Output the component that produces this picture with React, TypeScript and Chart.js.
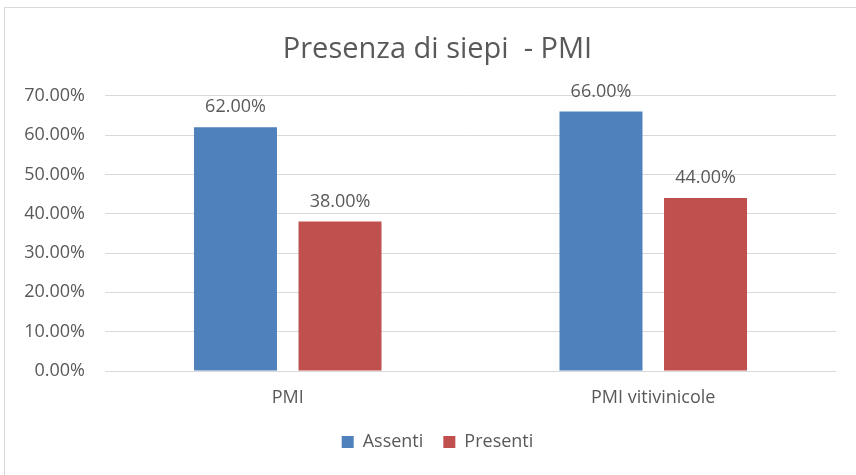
import React, { useEffect, useRef } from "react";
import { Chart, registerables } from "chart.js";

Chart.register(...registerables);

const categories = ["PMI", "PMI vitivinicole"];
const assenti = [62, 66];
const presenti = [38, 44];
const yTicks = [0, 10, 20, 30, 40, 50, 60, 70];
const titleText = "Presenza di siepi  - PMI";

const FONT = "'Open Sans', 'Liberation Sans', sans-serif";
const TEXT = "#595959";
const GRID = "#d9d9d9";

const borderPlugin = {
  id: "outerBorder",
  beforeDraw(chart: any) {
    const ctx = chart.ctx;
    ctx.save();
    ctx.fillStyle = "#ffffff";
    ctx.fillRect(0, 0, chart.width, chart.height);
    ctx.strokeStyle = GRID;
    ctx.lineWidth = 1;
    ctx.strokeRect(4.5, 7.5, 1000, 1000);
    ctx.restore();
  },
};

const labelPlugin = {
  id: "barLabels",
  afterDatasetsDraw(chart: any) {
    const ctx = chart.ctx;
    ctx.save();
    ctx.font = `18px ${FONT}`;
    ctx.fillStyle = TEXT;
    ctx.textAlign = "center";
    ctx.textBaseline = "bottom";
    chart.data.datasets.forEach((ds: any, i: number) => {
      const meta = chart.getDatasetMeta(i);
      meta.data.forEach((bar: any, j: number) => {
        ctx.fillText(ds.data[j].toFixed(2) + "%", bar.x, bar.y - 11);
      });
    });
    ctx.restore();
  },
};

export default function App() {
  const ref = useRef<HTMLCanvasElement | null>(null);
  useEffect(() => {
    document.body.style.margin = "0";
    const chart = new Chart(ref.current!, {
      type: "bar",
      data: {
        labels: categories,
        datasets: [
          { label: "Assenti", data: assenti, backgroundColor: "#4f81bd" },
          { label: "Presenti", data: presenti, backgroundColor: "#c0504d" },
        ],
      },
      options: {
        responsive: false,
        animation: false,
        layout: { padding: { left: 19, right: 0, top: 0, bottom: 14 } },
        datasets: { bar: { categoryPercentage: 0.572, barPercentage: 0.794 } },
        plugins: {
          title: {
            display: true,
            text: titleText,
            color: TEXT,
            font: { family: FONT, size: 29, weight: "normal" },
            padding: { top: 32, bottom: 29 },
          },
          legend: {
            position: "bottom",
            labels: {
              boxWidth: 12,
              boxHeight: 12,
              color: TEXT,
              font: { family: FONT, size: 18 },
              padding: 20,
            },
          },
          tooltip: { enabled: false },
        },
        scales: {
          x: {
            grid: { display: false, drawTicks: false },
            border: { display: false },
            ticks: { color: TEXT, font: { family: FONT, size: 18 }, padding: 16 },
            afterFit(scale: any) {
              scale.height = 42;
            },
          },
          y: {
            min: 0,
            max: 70,
            afterFit(scale: any) {
              scale.width = 86;
            },
            afterBuildTicks(scale: any) {
              scale.ticks = yTicks.map((v) => ({ value: v }));
            },
            grid: { color: GRID, drawTicks: false },
            border: { display: false },
            ticks: {
              color: TEXT,
              font: { family: FONT, size: 18 },
              padding: 20,
              callback: (v: any) => Number(v).toFixed(2) + "%",
            },
          },
          y2: {
            position: "right",
            min: 0,
            max: 70,
            grid: { display: false, drawTicks: false },
            border: { display: false },
            ticks: { display: false },
            afterFit(scale: any) {
              scale.width = 20;
            },
          },
        },
      },
      plugins: [borderPlugin, labelPlugin],
    });
    return () => chart.destroy();
  }, []);
  return <canvas ref={ref} width={856} height={475} />;
}
